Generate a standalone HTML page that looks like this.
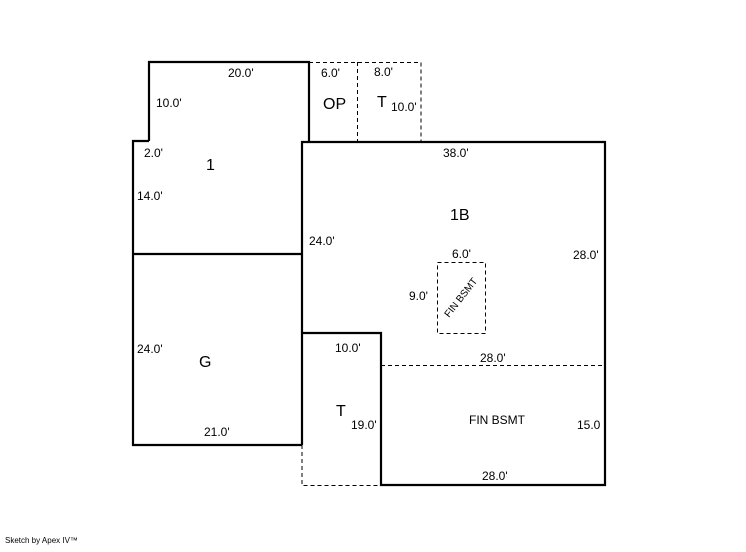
<!DOCTYPE html>
<html><head><style>
body{margin:0;background:#fff}
svg text{font-family:"Liberation Sans",Arial,sans-serif;fill:#000}
</style></head><body>
<svg width="746" height="547" viewBox="0 0 746 547" xmlns="http://www.w3.org/2000/svg">
<g fill="none" stroke="#000" stroke-width="2.2">
<path d="M149,141 V62 H309 V141"/>
<path d="M149,141 H133 V445 H302"/>
<path d="M133,254 H302"/>
<path d="M302,445 V142 H605 V485 H381 V333 H302"/>
</g>
<g fill="none" stroke="#000" stroke-width="1" stroke-dasharray="4,3">
<path d="M309,62.5 H421 V141"/>
<path d="M357.5,62 V141"/>
<path d="M302,445 V485.5 H381"/>
<path d="M381,365.5 H605"/>
<rect x="437.5" y="262.5" width="48" height="71"/>
</g>
<g font-size="12">
<text x="228" y="77">20.0'</text>
<text x="156" y="107">10.0'</text>
<text x="144" y="157">2.0'</text>
<text x="137" y="200">14.0'</text>
<text x="321" y="77">6.0'</text>
<text x="374" y="76">8.0'</text>
<text x="391" y="111">10.0'</text>
<text x="443" y="157">38.0'</text>
<text x="309" y="245">24.0'</text>
<text x="573" y="259">28.0'</text>
<text x="452" y="258">6.0'</text>
<text x="409" y="300">9.0'</text>
<text x="335" y="352">10.0'</text>
<text x="480" y="362">28.0'</text>
<text x="137" y="353">24.0'</text>
<text x="351" y="429">19.0'</text>
<text x="577" y="429">15.0</text>
<text x="204" y="436">21.0'</text>
<text x="482" y="480">28.0'</text>
<text x="469" y="424">FIN BSMT</text>
<text font-size="10" transform="translate(449,318) rotate(-52)">FIN BSMT</text>
</g>
<g font-size="16">
<text x="206" y="170">1</text>
<text x="323" y="109">OP</text>
<text x="377" y="107">T</text>
<text x="450" y="220">1B</text>
<text x="199" y="367">G</text>
<text x="336" y="416">T</text>
</g>
<text x="5" y="543" font-size="8">Sketch by Apex IV™</text>
</svg>
</body></html>
